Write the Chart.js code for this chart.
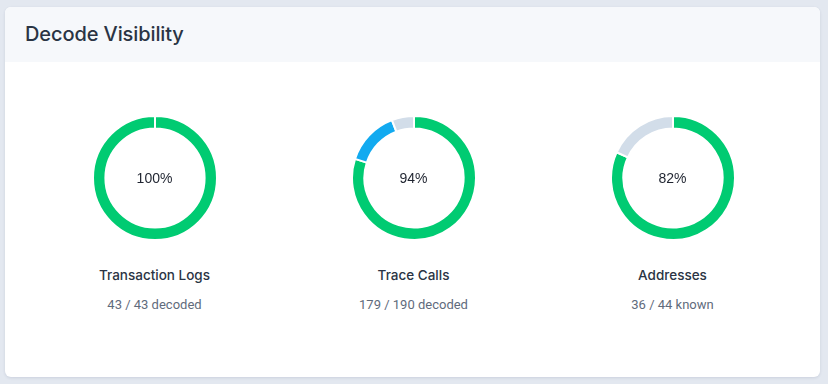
<!DOCTYPE html>
<html>
<head>
<meta charset="utf-8">
<script src="https://cdn.jsdelivr.net/npm/chart.js@4.4.0/dist/chart.umd.min.js"></script>
<style>
  html, body { margin: 0; padding: 0; }
  body {
    width: 828px; height: 384px; background: #e3e8f0;
    font-family: Inter, "Noto Sans", sans-serif; overflow: hidden;
  }
  .card {
    position: absolute; left: 5px; top: 7px; width: 815px; height: 370px;
    background: #fff; border-radius: 6px; overflow: hidden;
    box-shadow: 0 1px 3px rgba(30, 50, 90, 0.12);
  }
  .card-head {
    height: 55px; background: #f6f8fb; box-sizing: border-box;
    padding-left: 20px; line-height: 55px;
    font-size: 20px; font-weight: 500; color: #2a3444; letter-spacing: -0.1px;
  }
  .cols { position: absolute; left: 20px; top: 55px; width: 777px; }
  .col { position: absolute; top: 0; width: 259px; text-align: center; }
  .ring { position: relative; width: 126px; height: 126px; margin: 53px auto 0; }
  .ring canvas { display: block; }
  .mid {
    position: absolute; left: 0; top: 0; width: 126px; line-height: 126px;
    font-family: "Liberation Sans", Arial, sans-serif; font-size: 14px; color: #1f2430;
  }
  .name { margin-top: 26px; font-size: 13.5px; font-weight: 500; color: #2a3444; }
  .sub {
    margin-top: 14px; font-size: 13px; color: #5f6b7c;
    font-family: Roboto, sans-serif;
  }
</style>
</head>
<body>
<div class="card">
  <div class="card-head">Decode Visibility</div>
  <div class="cols" id="cols"></div>
</div>
<script>
// one ring per block
const titles = ['Transaction Logs', 'Trace Calls', 'Addresses'];
const decoded = [43, 179, 36];
const totals = [43, 190, 44];
const units = ['decoded', 'decoded', 'known'];
const percents = ['100%', '94%', '82%'];

// ring segments: full / partial / missing
const fullVals = [43, 152, 36];
const partialVals = [0, 27, 0];
const missingVals = [0, 11, 8];
const segColors = ['#00cb72', '#12aaf0', '#d2dde9'];

const cols = document.getElementById('cols');

titles.forEach((t, i) => {
  const col = document.createElement('div');
  col.className = 'col';
  col.style.left = (i * 259) + 'px';
  col.innerHTML =
    '<div class="ring"><canvas id="ring' + i + '" width="126" height="126"></canvas>' +
    '<div class="mid">' + percents[i] + '</div></div>' +
    '<div class="name">' + t + '</div>' +
    '<div class="sub">' + decoded[i] + ' / ' + totals[i] + ' ' + units[i] + '</div>';
  cols.appendChild(col);

  const ctx = document.getElementById('ring' + i).getContext('2d');
  new Chart(ctx, {
    type: 'doughnut',
    data: {
      labels: ['full', 'partial', 'missing'],
      datasets: [{
        data: [fullVals[i], partialVals[i], missingVals[i]],
        backgroundColor: segColors,
        borderColor: '#ffffff',
        borderWidth: 2
      }]
    },
    options: {
      responsive: false,
      animation: false,
      cutout: '80%',
      plugins: { legend: { display: false }, tooltip: { enabled: false } }
    }
  });
});
</script>
</body>
</html>
